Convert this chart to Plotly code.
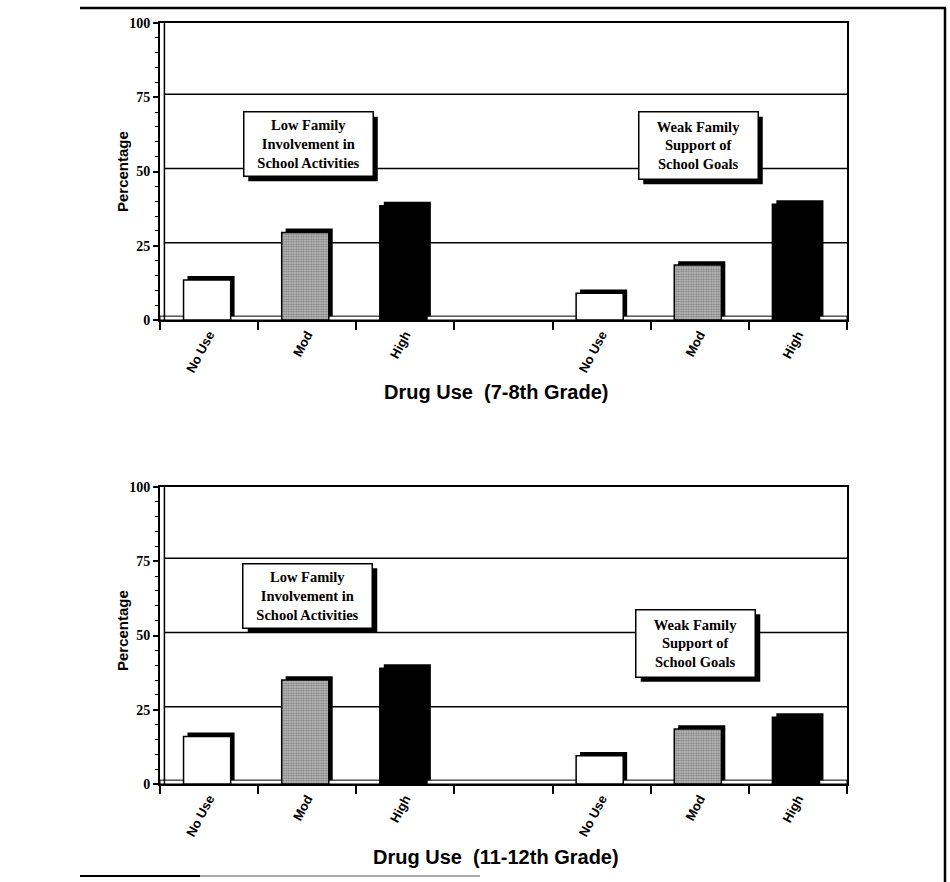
import plotly.graph_objects as go

# ---------------- data ----------------
levels = ["No Use", "Mod", "High"]
tick_labels = ["No Use", "Mod", "High", "", "No Use", "Mod", "High"]
group_names = ["Low Family<br>Involvement in<br>School Activities",
               "Weak Family<br>Support of<br>School Goals"]
grades = ["Drug Use  (7-8th Grade)", "Drug Use  (11-12th Grade)"]
low_pos = [0, 1, 2]
weak_pos = [4, 5, 6]

low_78 = [13.5, 29.5, 38.5]
weak_78 = [9, 18.5, 39]
low_1112 = [16, 35, 39]
weak_1112 = [9.5, 18.5, 22.5]

y_ticks = [0, 25, 50, 75, 100]
grid_vals = [25, 50, 75]

# ---------------- styling ----------------
W, H = 950, 882
def px(x):
    return x / W
def py(y):
    return 1 - y / H

x_dom = [px(160), px(847)]
panels = [
    dict(ydom=[py(320), py(23)], low=low_78, weak=weak_78, title=grades[0],
         title_y=py(392), ylab_y=py(171),
         boxes=[(308, 144, 120, 55), (698, 145.5, 110, 58)]),
    dict(ydom=[py(784), py(487)], low=low_1112, weak=weak_1112, title=grades[1],
         title_y=py(857), ylab_y=py(630),
         boxes=[(307.5, 595.5, 120, 55), (695.5, 643, 110, 58)]),
]

DEPTH = 1.3
BAR_W = 0.48
BAR_OFF = -0.26
SH_OFF = -0.22
BPAD = 4
BW = 1.5
SHADOW = 5

fills = [
    dict(color="white"),
    dict(color="#a0a0a0", pattern=dict(shape=".", fgcolor="#2a2a2a", bgcolor="#d0d0d0",
                                       size=2.5, solidity=0.6)),
    dict(color="black"),
]

fig = go.Figure()
shapes = []
annotations = []

for i, p in enumerate(panels):
    xa = "x" if i == 0 else "x2"
    ya = "y" if i == 0 else "y2"
    for k, lev in enumerate(levels):
        xv = [low_pos[k], weak_pos[k]]
        yv = [p["low"][k], p["weak"][k]]
        # 3D shadow
        fig.add_trace(go.Bar(x=xv, y=yv, base=DEPTH, width=BAR_W, offset=SH_OFF,
                             marker=dict(color="black", line=dict(width=0)),
                             xaxis=xa, yaxis=ya, showlegend=False, hoverinfo="skip"))
        m = dict(fills[k])
        m["line"] = dict(color="black", width=1.5)
        fig.add_trace(go.Bar(x=xv, y=yv, base=0, width=BAR_W, offset=BAR_OFF,
                             marker=m, name=lev, xaxis=xa, yaxis=ya, showlegend=False))
    # grid lines (back wall, slightly raised)
    for g in grid_vals:
        shapes.append(dict(type="line", xref=xa, yref=ya, x0=-0.5 + 0.045, x1=6.5,
                           y0=g + 1.0, y1=g + 1.0, line=dict(color="black", width=1.5),
                           layer="below"))
    # floor
    shapes.append(dict(type="rect", xref=xa, yref=ya, x0=-0.5, x1=6.5, y0=0, y1=DEPTH,
                       line=dict(color="black", width=1), fillcolor="white", layer="below"))
    # wall
    shapes.append(dict(type="line", xref=xa, yref=ya, x0=-0.5 + 0.045, x1=-0.5 + 0.045,
                       y0=0, y1=100, line=dict(color="black", width=1.5), layer="below"))
    # labels
    annotations.append(dict(text="<b>Percentage</b>", xref="paper", yref="paper",
                            x=px(122), y=p["ylab_y"], xanchor="center", yanchor="middle",
                            showarrow=False, textangle=-90,
                            font=dict(family="Liberation Sans", size=15, color="black")))
    annotations.append(dict(text="<b>" + p["title"] + "</b>", xref="paper", yref="paper",
                            x=px(496), y=p["title_y"], xanchor="center", yanchor="middle",
                            showarrow=False,
                            font=dict(family="Liberation Sans", size=20, color="black")))
    for j, (cx, cy, bw, bh) in enumerate(p["boxes"]):
        hw = bw / 2 + BPAD + BW / 2
        hh = bh / 2 + BPAD + BW / 2
        shapes.append(dict(type="rect", xref="paper", yref="paper",
                           x0=px(cx - hw + SHADOW), x1=px(cx + hw + SHADOW),
                           y0=py(cy + hh + SHADOW), y1=py(cy - hh + SHADOW),
                           fillcolor="black", line=dict(width=0), layer="above"))
        annotations.append(dict(text="<b>" + group_names[j] + "</b>", xref="paper",
                                yref="paper", x=px(cx), y=py(cy), showarrow=False,
                                width=bw, height=bh, borderpad=BPAD, borderwidth=BW,
                                align="center", xanchor="center", yanchor="middle",
                                bgcolor="white", bordercolor="black",
                                font=dict(family="Liberation Serif", size=14.5, color="black")))

# outer frame
shapes.append(dict(type="line", xref="paper", yref="paper", x0=px(80), x1=px(946),
                   y0=py(8), y1=py(8), line=dict(color="black", width=2.5)))
shapes.append(dict(type="line", xref="paper", yref="paper", x0=px(945), x1=px(945),
                   y0=py(8), y1=py(882), line=dict(color="black", width=2.5)))
shapes.append(dict(type="line", xref="paper", yref="paper", x0=px(80), x1=px(200),
                   y0=py(876), y1=py(876), line=dict(color="black", width=2)))
shapes.append(dict(type="line", xref="paper", yref="paper", x0=px(200), x1=px(480),
                   y0=py(876), y1=py(876), line=dict(color="#aaaaaa", width=2)))

def xaxis(anchor):
    return dict(domain=x_dom, anchor=anchor, range=[-0.5, 6.5], tickmode="array",
                tickvals=list(range(7)), ticktext=tick_labels, tickangle=-62,
                ticks="", showline=True, linewidth=2, linecolor="black", mirror=True,
                showgrid=False, zeroline=False, automargin=False,
                tickfont=dict(family="Liberation Sans", size=13, color="black", weight="bold"),
                minor=dict(tickmode="array", tickvals=[k - 0.5 for k in range(8)],
                           ticks="outside", ticklen=8, tickwidth=2, tickcolor="black",
                           showgrid=False))

def yaxis(anchor, dom):
    return dict(domain=dom, anchor=anchor, range=[0, 100], tickmode="array",
                tickvals=y_ticks, ticks="outside", ticklen=5, tickwidth=1.5,
                tickcolor="black", showline=True, linewidth=2, linecolor="black",
                mirror=True, showgrid=False, zeroline=False, automargin=False,
                tickfont=dict(family="Liberation Serif", size=14, color="black", weight="bold"),
                minor=dict(dtick=5, tick0=0, ticks="outside", ticklen=3, tickwidth=1,
                           tickcolor="black", showgrid=False))

fig.update_layout(
    width=W, height=H, margin=dict(l=0, r=0, t=0, b=0, pad=0, autoexpand=False),
    paper_bgcolor="white", plot_bgcolor="white", barmode="overlay",
    xaxis=xaxis("y"), yaxis=yaxis("x", panels[0]["ydom"]),
    xaxis2=xaxis("y2"), yaxis2=yaxis("x2", panels[1]["ydom"]),
    shapes=shapes, annotations=annotations, showlegend=False,
)

fig.write_html("out.html", config={"displayModeBar": False},
               post_script="document.body.style.margin='0';document.body.style.overflow='hidden';")
